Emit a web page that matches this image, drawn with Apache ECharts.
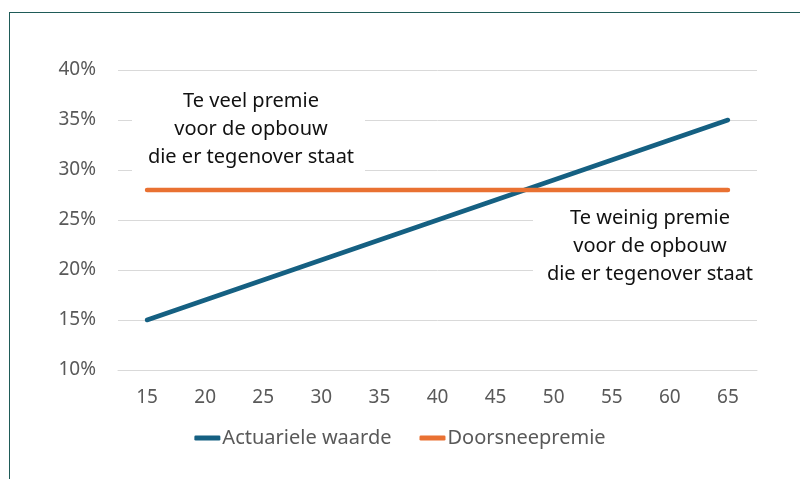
<!DOCTYPE html>
<html>
<head>
<meta charset="UTF-8"/>
<script src="https://cdn.jsdelivr.net/npm/echarts@6/dist/echarts.min.js"></script>
<style>
  html, body { margin: 0; padding: 0; background: #fff; }
  #chart { width: 800px; height: 479px; }
  #frame { position: absolute; left: 9px; top: 12px; width: 820px; height: 500px; border: 1.5px solid #1f5b58; box-sizing: border-box; pointer-events: none; }
</style>
</head>
<body>
<div id="chart"></div>
<div id="frame"></div>
<script type="text/javascript">
    // leeftijden op de x-as
    var ages = ['15', '20', '25', '30', '35', '40', '45', '50', '55', '60', '65'];
    var actuarieleWaarde = [15, 17, 19, 21, 23, 25, 27, 29, 31, 33, 35];
    var doorsneepremie = [28, 28, 28, 28, 28, 28, 28, 28, 28, 28, 28];
    var labelTeVeel = ['Te veel premie', 'voor de opbouw', 'die er tegenover staat'];
    var labelTeWeinig = ['Te weinig premie', 'voor de opbouw', 'die er tegenover staat'];

    var font = '"Noto Sans", sans-serif';
    var chart = echarts.init(document.getElementById('chart'));

    // tekstvak met witte achtergrond
    var tekstvak = function(lines, cx, top, boxLeft, boxWidth) {
        return {
            type: 'group',
            z: 100,
            children: [
                {
                    type: 'rect', z: 100,
                    shape: { x: boxLeft, y: top - 2, width: boxWidth, height: 90 },
                    style: { fill: '#fff' }
                },
                {
                    type: 'text', z: 101, x: cx, y: top,
                    style: {
                        text: lines.join('\n'), align: 'center', verticalAlign: 'top',
                        fill: '#111', fontSize: 20, lineHeight: 28, fontFamily: font
                    }
                }
            ]
        };
    };

    chart.setOption({
        animation: false,
        grid: { left: 118, right: 43, top: 70, bottom: 109 },
        legend: {
            bottom: 26,
            left: 'center',
            itemWidth: 26,
            itemHeight: 5,
            itemGap: 28,
            icon: 'roundRect',
            textStyle: { color: '#595959', fontSize: 20, fontFamily: font, padding: [0, 0, 0, -3] },
            data: ['Actuariele waarde', 'Doorsneepremie']
        },
        xAxis: {
            type: 'category',
            data: ages,
            boundaryGap: true,
            axisLine: { show: true, lineStyle: { color: '#d9d9d9' } },
            axisTick: { show: false },
            axisLabel: { color: '#595959', fontSize: 19, fontFamily: font, margin: 18 }
        },
        yAxis: {
            type: 'value',
            min: 10,
            max: 40,
            interval: 5,
            axisLine: { show: false },
            axisTick: { show: false },
            axisLabel: { color: '#595959', fontSize: 19, fontFamily: font, margin: 22, formatter: '{value}%' },
            splitLine: { lineStyle: { color: '#d9d9d9', width: 1 } }
        },
        graphic: [
            tekstvak(labelTeVeel, 251, 87, 132, 233),
            tekstvak(labelTeWeinig, 650, 204, 533, 240)
        ],
        series: [
            {
                name: 'Actuariele waarde',
                type: 'line',
                data: actuarieleWaarde,
                symbol: 'none',
                lineStyle: { color: '#156082', width: 4.5, cap: 'round' },
                itemStyle: { color: '#156082' }
            },
            {
                name: 'Doorsneepremie',
                type: 'line',
                data: doorsneepremie,
                symbol: 'none',
                lineStyle: { color: '#e97132', width: 4.5, cap: 'round' },
                itemStyle: { color: '#e97132' }
            }
        ]
    });
</script>
</body>
</html>
